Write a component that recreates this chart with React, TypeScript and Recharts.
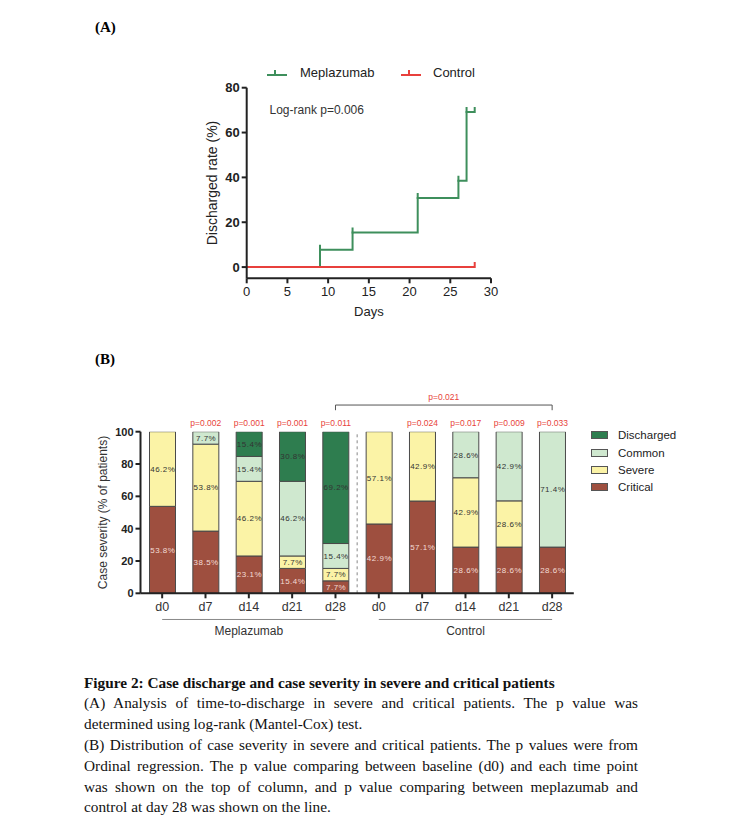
import React from 'react';
import {
  LineChart,
  Line,
  XAxis,
  YAxis,
  BarChart,
  Bar,
  LabelList,
  ReferenceLine,
  ReferenceDot,
} from 'recharts';

const SANS = '"Liberation Sans", Arial, sans-serif';
const SERIF = '"Liberation Serif", "Times New Roman", serif';

// ---------- Panel A data ----------
const meplaDays = [0, 9, 13, 21, 26, 27, 28];
const meplaRates = [0, 7.7, 15.4, 30.8, 38.5, 69.2, 69.2];
const meplaCensor = [false, true, true, true, true, true, true];
const ctrlDays = [0, 28];
const ctrlRates = [0, 0];
const ctrlCensor = [false, true];
const dayTicks = [0, 5, 10, 15, 20, 25, 30];
const rateTicks = [0, 20, 40, 60, 80];

// ---------- Panel B data ----------
const categories = ['M-d0', 'M-d7', 'M-d14', 'M-d21', 'M-d28', 'C-d0', 'C-d7', 'C-d14', 'C-d21', 'C-d28'];
const catLabels = ['d0', 'd7', 'd14', 'd21', 'd28', 'd0', 'd7', 'd14', 'd21', 'd28'];
const critical = [53.8, 38.5, 23.1, 15.4, 7.7, 42.9, 57.1, 28.6, 28.6, 28.6];
const severe = [46.2, 53.8, 46.2, 7.7, 7.7, 57.1, 42.9, 42.9, 28.6, 0];
const common = [0, 7.7, 15.4, 46.2, 15.4, 0, 0, 28.6, 42.9, 71.4];
const discharged = [0, 0, 15.4, 30.8, 69.2, 0, 0, 0, 0, 0];
const pValues = ['', 'p=0.002', 'p=0.001', 'p=0.001', 'p=0.011', '', 'p=0.024', 'p=0.017', 'p=0.009', 'p=0.033'];
const severityTicks = [0, 20, 40, 60, 80, 100];
const groupP = 'p=0.021';

const COLORS = {
  green: '#3e8f5c',
  red: '#e8403c',
  discharged: '#2e7d4f',
  common: '#cfe8cf',
  severe: '#fbf3a6',
  critical: '#9e4f3f',
  pRed: '#e8433a',
};

const legendB = [
  { name: 'Discharged', color: COLORS.discharged },
  { name: 'Common', color: COLORS.common },
  { name: 'Severe', color: COLORS.severe },
  { name: 'Critical', color: COLORS.critical },
];

const meplaData = meplaDays.map((d, i) => ({ day: d, rate: meplaRates[i] }));
const ctrlData = ctrlDays.map((d, i) => ({ day: d, rate: ctrlRates[i] }));
const barData = categories.map((k, i) => ({
  key: k,
  critical: critical[i],
  severe: severe[i],
  common: common[i],
  discharged: discharged[i],
  p: pValues[i],
}));

const makeCensorDot = (flags: boolean[], color: string) => (props: any) => {
  const { cx, cy, index } = props;
  if (!flags[index] || cx == null || cy == null) return <g key={`c${index}`} />;
  return (
    <line key={`c${index}`} x1={cx} x2={cx} y1={cy + 1} y2={cy - 5} stroke={color} strokeWidth={2} />
  );
};

const getBox = (props: any) => {
  const vb = props.viewBox || {};
  return {
    x: props.x ?? vb.x,
    y: props.y ?? vb.y,
    width: props.width ?? vb.width,
    height: props.height ?? vb.height,
  };
};

const makeValueLabel = (color: string) => (props: any) => {
  const { value, index } = props;
  const b = getBox(props);
  if (!value || b.x == null) return null;
  return (
    <text
      key={`v${index}`}
      x={b.x + b.width / 2 + 0.3}
      y={b.y + b.height / 2}
      dy="0.35em"
      textAnchor="middle"
      fontSize={8}
      letterSpacing={0.5}
      fill={color}
      fontFamily={SANS}
    >
      {`${Number(value).toFixed(1)}%`}
    </text>
  );
};

// p-value label attached to the bottom (Critical) segment; the column top (100%)
// is derived from that segment's own pixel scale.
const renderP = (props: any) => {
  const { value, index } = props;
  const b = getBox(props);
  if (!value || b.x == null) return null;
  const v = critical[index];
  const pxPerUnit = b.height / v;
  const bottom = b.y + b.height;
  const top = bottom - 100 * pxPerUnit;
  return (
    <text
      key={`p${index}`}
      x={b.x + b.width / 2}
      y={top - 6}
      textAnchor="middle"
      fontSize={8.5}
      fill={COLORS.pRed}
      fontFamily={SANS}
    >
      {value}
    </text>
  );
};

const CensorIcon = ({ color }: { color: string }) => (
  <svg width={24} height={14}>
    <line x1={2} x2={22} y1={9} y2={9} stroke={color} strokeWidth={2} />
    <line x1={10} x2={10} y1={9} y2={4} stroke={color} strokeWidth={2} />
  </svg>
);

export default function App() {
  const axisA = { stroke: '#222', strokeWidth: 2 };
  return (
    <div
      style={{
        position: 'absolute',
        left: 0,
        top: 0,
        width: 740,
        height: 838,
        background: '#fff',
        overflow: 'hidden',
      }}
    >
      {/* Panel labels */}
      <div style={{ position: 'absolute', left: 95, top: 17, fontFamily: SERIF, fontWeight: 'bold', fontSize: 15, lineHeight: '20px' }}>(A)</div>
      <div style={{ position: 'absolute', left: 95, top: 349, fontFamily: SERIF, fontWeight: 'bold', fontSize: 15, lineHeight: '20px' }}>(B)</div>

      {/* Legend A */}
      <div style={{ position: 'absolute', left: 265, top: 66 }}>
        <CensorIcon color={COLORS.green} />
      </div>
      <div style={{ position: 'absolute', left: 300, top: 65, fontFamily: SANS, fontSize: 13, lineHeight: '16px', color: '#222' }}>Meplazumab</div>
      <div style={{ position: 'absolute', left: 399, top: 66 }}>
        <CensorIcon color={COLORS.red} />
      </div>
      <div style={{ position: 'absolute', left: 433, top: 65, fontFamily: SANS, fontSize: 13, lineHeight: '16px', color: '#222' }}>Control</div>

      {/* Chart A */}
      <div style={{ position: 'absolute', left: 170, top: 40 }}>
        <LineChart width={340} height={290} margin={{ top: 47.7, right: 19, bottom: 11.7, left: 16.7 }}>
          <XAxis
            type="number"
            dataKey="day"
            domain={[0, 30]}
            ticks={dayTicks}
            allowDataOverflow
            height={40}
            tick={{ fontSize: 13, fill: '#222', fontFamily: SANS }}
            tickSize={5}
            tickMargin={3}
            axisLine={axisA}
            tickLine={axisA}
            label={(p: any) => {
              const vb = p.viewBox || {};
              return (
                <text x={vb.x + vb.width / 2} y={vb.y + 38} textAnchor="middle" fontSize={13} fill="#222" fontFamily={SANS}>
                  Days
                </text>
              );
            }}
          />
          <YAxis
            type="number"
            domain={[-5, 80]}
            ticks={rateTicks}
            allowDataOverflow
            width={60}
            tick={{ fontSize: 13, fill: '#222', fontWeight: 'bold', fontFamily: SANS }}
            tickSize={5}
            tickMargin={2}
            axisLine={axisA}
            tickLine={axisA}
            label={(p: any) => {
              const vb = p.viewBox || {};
              const cx = vb.x + 25;
              const cy = vb.y + vb.height / 2;
              return (
                <text x={cx} y={cy} transform={`rotate(-90 ${cx} ${cy})`} textAnchor="middle" dy="0.35em" fontSize={14} fill="#222" fontFamily={SANS}>
                  Discharged rate (%)
                </text>
              );
            }}
          />
          <Line
            data={meplaData}
            dataKey="rate"
            type="stepAfter"
            stroke={COLORS.green}
            strokeWidth={2}
            dot={makeCensorDot(meplaCensor, COLORS.green)}
            activeDot={false}
            isAnimationActive={false}
          />
          <Line
            data={ctrlData}
            dataKey="rate"
            type="stepAfter"
            stroke={COLORS.red}
            strokeWidth={2}
            dot={makeCensorDot(ctrlCensor, COLORS.red)}
            activeDot={false}
            isAnimationActive={false}
          />
          <ReferenceDot
            x={8.6}
            y={70}
            r={0}
            fill="none"
            stroke="none"
            label={{ value: 'Log-rank p=0.006', position: 'center', fontSize: 12, fill: '#333', fontFamily: SANS }}
          />
        </LineChart>
      </div>

      {/* Chart B */}
      <div style={{ position: 'absolute', left: 80, top: 380 }}>
        <BarChart
          width={520}
          height={270}
          data={barData}
          margin={{ top: 51.7, right: 26.2, bottom: 26.7, left: 15.5 }}
          barSize={26}
        >
          <XAxis
            dataKey="key"
            interval={0}
            height={30}
            tickFormatter={(v: any) => catLabels[categories.indexOf(v)]}
            tick={{ fontSize: 12.5, fill: '#333', fontFamily: SANS }}
            tickSize={5}
            tickMargin={4}
            axisLine={axisA}
            tickLine={axisA}
          />
          <YAxis
            type="number"
            domain={[0, 100]}
            ticks={severityTicks}
            allowDataOverflow
            width={45}
            tick={{ fontSize: 11, fill: '#222', fontWeight: 'bold', fontFamily: SANS }}
            tickSize={5}
            tickMargin={2}
            axisLine={axisA}
            tickLine={axisA}
            label={(p: any) => {
              const vb = p.viewBox || {};
              const cx = vb.x + 7.5;
              const cy = vb.y + vb.height / 2;
              return (
                <text x={cx} y={cy} transform={`rotate(-90 ${cx} ${cy})`} textAnchor="middle" dy="0.35em" fontSize={12} fill="#333" fontFamily={SANS}>
                  Case severity (% of patients)
                </text>
              );
            }}
          />
          <Bar dataKey="critical" stackId="s" fill={COLORS.critical} stroke="#4a4a4a" strokeWidth={1} isAnimationActive={false}>
            <LabelList dataKey="critical" content={makeValueLabel('#f3dcd5')} />
            <LabelList dataKey="p" content={renderP} />
          </Bar>
          <Bar dataKey="severe" stackId="s" fill={COLORS.severe} stroke="#4a4a4a" strokeWidth={1} isAnimationActive={false}>
            <LabelList dataKey="severe" content={makeValueLabel('#333')} />
          </Bar>
          <Bar dataKey="common" stackId="s" fill={COLORS.common} stroke="#4a4a4a" strokeWidth={1} isAnimationActive={false}>
            <LabelList dataKey="common" content={makeValueLabel('#333')} />
          </Bar>
          <Bar dataKey="discharged" stackId="s" fill={COLORS.discharged} stroke="#4a4a4a" strokeWidth={1} isAnimationActive={false}>
            <LabelList dataKey="discharged" content={makeValueLabel('#333')} />
          </Bar>
          <ReferenceLine x="M-d28" position="end" stroke="#888" strokeWidth={1} strokeDasharray="3 3" />
          <ReferenceLine
            segment={[{ x: 'M-d28', y: 116.5 }, { x: 'C-d28', y: 116.5 }]}
            ifOverflow="visible"
            stroke="#555"
            strokeWidth={1}
            label={{ value: groupP, position: 'top', offset: 5, fill: COLORS.pRed, fontSize: 8.5, fontFamily: SANS }}
          />
          <ReferenceLine segment={[{ x: 'M-d28', y: 116.5 }, { x: 'M-d28', y: 113.3 }]} ifOverflow="visible" stroke="#555" strokeWidth={1} />
          <ReferenceLine segment={[{ x: 'C-d28', y: 116.5 }, { x: 'C-d28', y: 113.3 }]} ifOverflow="visible" stroke="#555" strokeWidth={1} />
          <ReferenceLine
            segment={[{ x: 'M-d0', y: -16.2 }, { x: 'M-d28', y: -16.2 }]}
            ifOverflow="visible"
            stroke="#888"
            strokeWidth={1}
            label={{ value: 'Meplazumab', position: 'bottom', offset: 7, fill: '#333', fontSize: 12, fontFamily: SANS }}
          />
          <ReferenceLine
            segment={[{ x: 'C-d0', y: -16.2 }, { x: 'C-d28', y: -16.2 }]}
            ifOverflow="visible"
            stroke="#888"
            strokeWidth={1}
            label={{ value: 'Control', position: 'bottom', offset: 7, fill: '#333', fontSize: 12, fontFamily: SANS }}
          />
        </BarChart>
      </div>

      {/* Legend B */}
      {legendB.map((item, i) => (
        <React.Fragment key={item.name}>
          <div
            style={{
              position: 'absolute',
              left: 591,
              top: 431.3 + i * 17.3,
              width: 17,
              height: 8,
              background: item.color,
              border: '1px solid #555',
              boxSizing: 'border-box',
            }}
          />
          <div
            style={{
              position: 'absolute',
              left: 618,
              top: 427.3 + i * 17.3,
              fontFamily: SANS,
              fontSize: 11.5,
              lineHeight: '16px',
              color: '#222',
            }}
          >
            {item.name}
          </div>
        </React.Fragment>
      ))}

      {/* Caption */}
      <div style={{ position: 'absolute', left: 84, top: 672.6, width: 554, fontFamily: SERIF, fontSize: 15.3, lineHeight: '20.8px', color: '#111' }}>
        <div style={{ fontWeight: 'bold', whiteSpace: 'nowrap' }}>Figure 2: Case discharge and case severity in severe and critical patients</div>
        <div style={{ textAlign: 'justify', textAlignLast: 'justify' }}>
          (A) Analysis of time-to-discharge in severe and critical patients. The p value was
        </div>
        <div>determined using log-rank (Mantel-Cox) test.</div>
        <div style={{ textAlign: 'justify', textAlignLast: 'justify' }}>
          (B) Distribution of case severity in severe and critical patients. The p values were from
        </div>
        <div style={{ textAlign: 'justify', textAlignLast: 'justify' }}>
          Ordinal regression. The p value comparing between baseline (d0) and each time point
        </div>
        <div style={{ textAlign: 'justify', textAlignLast: 'justify' }}>
          was shown on the top of column, and p value comparing between meplazumab and
        </div>
        <div>control at day 28 was shown on the line.</div>
      </div>
    </div>
  );
}
